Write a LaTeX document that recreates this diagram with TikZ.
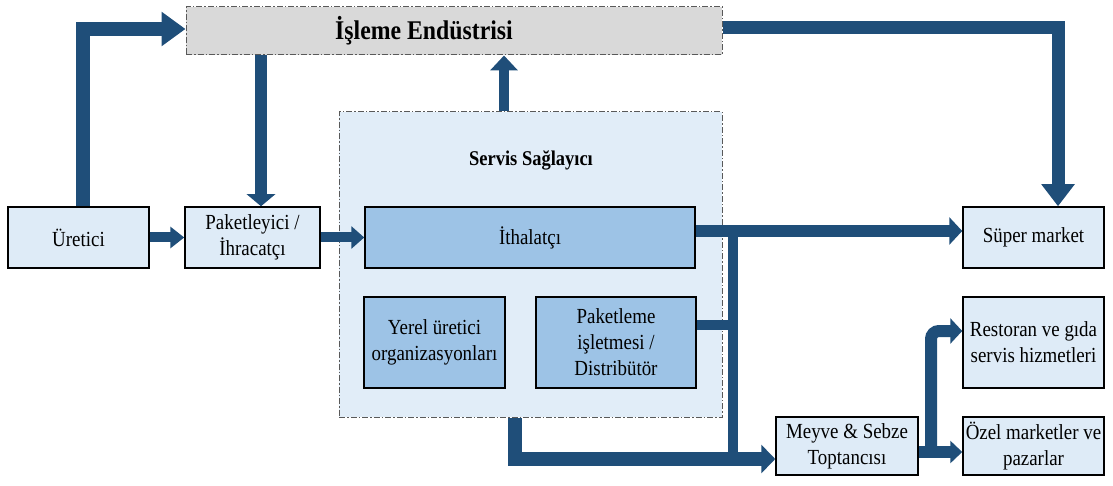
\documentclass[tikz,border=0pt]{standalone}
\usepackage{fontspec}
\setmainfont{Liberation Serif}[FakeStretch=0.88]
\usetikzlibrary{arrows.meta}
\definecolor{arr}{HTML}{1F4E79}
\definecolor{lightb}{HTML}{DEEBF7}
\definecolor{midb}{HTML}{9DC3E6}
\definecolor{grayf}{HTML}{D9D9D9}
\definecolor{dashc}{HTML}{595959}
\tikzset{
  x=1pt,y=-1pt,
  box/.style={draw=black,line width=1.5pt,fill=lightb,align=center,inner sep=2pt,
    font=\fontsize{21.5}{26}\selectfont},
  midbox/.style={box,fill=midb},
  group/.style={draw=dashc,line width=1pt,dash pattern=on 6pt off 2pt on 1.5pt off 2pt},
  flow/.style={draw=arr,line join=miter},
}
\begin{document}
\begin{tikzpicture}
\useasboundingbox (0,0) rectangle (1113,486);
% groups
\node[group,fill=grayf,minimum width=536pt,minimum height=48pt] (ie) at (454,31) {};
\node[font=\fontsize{27}{30}\selectfont\bfseries] (ielabel) at (424,31) {İşleme Endüstrisi};
\node[group,fill=lightb!90!white,minimum width=383pt,minimum height=305pt] (ss) at (530.5,264.5) {};
\node[font=\fontsize{21}{24}\selectfont\bfseries] (sslabel) at (531,160) {Servis Sağlayıcı};
% boxes
\node[box,minimum width=141pt,minimum height=61pt] (ure) at (78.5,237.5) {Üretici};
\node[box,minimum width=135pt,minimum height=61pt] (pak) at (252.5,237.5) {Paketleyici /\\İhracatçı};
\node[midbox,minimum width=330pt,minimum height=61pt] (ith) at (530,237.5) {İthalatçı};
\node[midbox,minimum width=141pt,minimum height=91pt] (yer) at (434.5,342.5) {Yerel üretici\\organizasyonları};
\node[midbox,minimum width=160pt,minimum height=91pt] (pkt) at (616,342.5) {Paketleme\\işletmesi /\\Distribütör};
\node[box,minimum width=141pt,minimum height=61pt] (sup) at (1033.5,237.5) {Süper market};
\node[box,minimum width=141pt,minimum height=91pt] (res) at (1033.5,342.5) {Restoran ve gıda\\servis hizmetleri};
\node[box,minimum width=141pt,minimum height=58pt] (oze) at (1033.5,446) {Özel marketler ve\\pazarlar};
\node[box,minimum width=142pt,minimum height=58pt] (mey) at (847,446) {Meyve \& Sebze\\Toptancısı};
% helper coordinates
\coordinate (urout) at ([xshift=4pt]ure.north);
\coordinate (iein) at ([yshift=2pt]ie.west);
\coordinate (pakin) at ([xshift=8.5pt]pak.north);
\coordinate (ssout) at ([xshift=-26.5pt]ss.north);
\coordinate (ieout) at ([yshift=3pt]ie.east);
\coordinate (supin) at ([xshift=24.5pt]sup.north);
\coordinate (ithout) at ([yshift=6.5pt]ith.east);
\coordinate (jtop) at (733,231);
\coordinate (jbot) at (733,466);
\coordinate (pktout) at ([yshift=17.5pt]pkt.east);
\coordinate (ssbot) at ([xshift=-15.5pt]ss.south);
\coordinate (meyin) at ([yshift=-13pt]mey.west);
\coordinate (meyout) at ([yshift=-6pt]mey.east);
\coordinate (resin) at ([yshift=11.5pt]res.west);
\coordinate (split) at (931,452);
% connectors
\draw[flow,line width=14pt,-{Triangle[length=24pt,width=33pt]}] (urout) |- (iein);
\draw[flow,line width=12.5pt,-{Triangle[length=12pt,width=28pt]}] (ie.south -| pakin) -- (pakin);
\draw[flow,line width=10pt,-{Triangle[length=14pt,width=21pt]}] (ure.east) -- (pak.west);
\draw[flow,line width=10pt,-{Triangle[length=13pt,width=22pt]}] (pak.east) -- (ith.west);
\draw[flow,line width=10pt,-{Triangle[length=15pt,width=27pt]}] (ssout) -- (ssout |- ie.south);
\draw[flow,line width=13pt,-{Triangle[length=22pt,width=32pt]}] (ieout) -| (supin);
\draw[flow,line width=12pt,-{Triangle[length=13pt,width=27pt]}] (ithout) -- (ithout -| sup.west);
\draw[flow,line width=10pt] (jtop) -- (jbot);
\draw[flow,line width=10pt] (pktout) -- ([xshift=5pt]pktout -| jtop);
\draw[flow,line width=14pt,-{Triangle[length=14pt,width=28pt]}] (ssbot) |- (meyin);
\draw[flow,line width=12pt,-{Triangle[length=12pt,width=22pt]}] (meyout) -- (meyout -| oze.west);
\draw[flow,line width=12pt,rounded corners=8pt,-{Triangle[length=12pt,width=25pt]}] (split) |- (resin);
\end{tikzpicture}
\end{document}
